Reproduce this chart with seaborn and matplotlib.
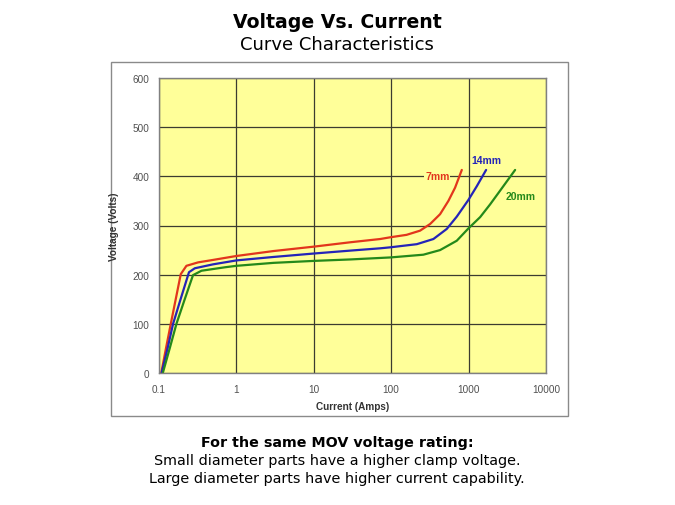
import matplotlib
matplotlib.use("Agg")
import matplotlib.pyplot as plt
from matplotlib.patches import Rectangle
import seaborn as sns
import pandas as pd

# ---- data ----
red_current = [0.107, 0.123, 0.142, 0.191, 0.226, 0.32, 0.5, 1, 3, 10, 30, 72, 97, 158, 236, 318, 428, 548, 669, 817]
red_voltage = [0, 50, 100, 201, 218, 225, 230, 238, 248, 257, 266, 272.5, 276, 281, 289.5, 303, 323, 350, 377, 413]

blue_current = [0.108, 0.129, 0.152, 0.19, 0.244, 0.29, 0.5, 1, 3, 10, 30, 72, 97, 214, 351, 522, 703, 994, 1277, 1683]
blue_voltage = [0, 50, 100, 150, 205, 213, 221, 229, 236, 243, 249, 253.6, 255.6, 262, 272.5, 293, 318, 352, 380, 413]

green_current = [0.112, 0.1375, 0.168, 0.215, 0.275, 0.354, 0.71, 1, 3, 10, 30, 72, 97, 260, 428, 703, 994, 1409, 1897, 2556, 3990]
green_voltage = [0, 50, 100, 150, 199, 208, 215, 218, 224, 228, 231, 234, 235, 240.6, 250, 269, 294, 317, 343, 371, 413]

series_names = ["7mm", "14mm", "20mm"]
x_ticks = [0.1, 1, 10, 100, 1000, 10000]
x_tick_labels = ["0.1", "1", "10", "100", "1000", "10000"]
y_ticks = [0, 100, 200, 300, 400, 500, 600]

title = "Voltage Vs. Current"
subtitle = "Curve Characteristics"
note_bold = "For the same MOV voltage rating:"
note_lines = ["Small diameter parts have a higher clamp voltage.",
              "Large diameter parts have higher current capability."]

# ---- build long-form table ----
frames = []
for name, xs, ys in zip(series_names,
                        [red_current, blue_current, green_current],
                        [red_voltage, blue_voltage, green_voltage]):
    frames.append(pd.DataFrame({"Current": xs, "Voltage": ys, "Size": name}))
df = pd.concat(frames, ignore_index=True)

palette = {"7mm": "#E2361C", "14mm": "#2424B8", "20mm": "#24891A"}

sns.set_style("white")
plt.rcParams["font.family"] = ["DejaVu Sans"]

W, H = 675, 506
fig = plt.figure(figsize=(W / 100, H / 100), dpi=100)
fig.patch.set_facecolor("white")

# outer chart frame
frame = Rectangle((111 / W, 1 - 417 / H), 457 / W, 354 / H,
                  transform=fig.transFigure, facecolor="white",
                  edgecolor="#8a8a8a", linewidth=1.0, zorder=-5)
fig.patches.append(frame)

ax = fig.add_axes([159 / W, 1 - 374 / H, (546 - 159) / W, (374 - 79) / H])
ax.set_zorder(2)
ax.set_facecolor("#FFFF99")

sns.lineplot(data=df, x="Current", y="Voltage", hue="Size", palette=palette,
             sort=False, estimator=None, linewidth=1.6, legend=False, ax=ax)
for ln in ax.get_lines():
    ln.set_solid_joinstyle("round")

ax.set_xscale("log")
ax.set_xlim(0.1, 10000)
ax.set_ylim(0, 600)
ax.set_xticks(x_ticks)
ax.set_xticklabels(x_tick_labels)
ax.set_yticks(y_ticks)
ax.minorticks_off()
ax.grid(True, which="major", color="#3c3c30", linewidth=0.9)
ax.set_axisbelow(True)
for s in ax.spines.values():
    s.set_color("#808080")
    s.set_linewidth(1.0)
ax.tick_params(axis="both", direction="out", length=3, width=0.8, color="#606060",
               labelsize=7.2, labelcolor="#505050")
for lab in ax.get_xticklabels() + ax.get_yticklabels():
    lab.set_family("Liberation Sans")
ax.tick_params(axis="x", pad=5)
ax.tick_params(axis="y", pad=4)

ax.set_xlabel("Current (Amps)", fontsize=7.2, fontweight="bold", color="#333333",
              family="Liberation Sans", labelpad=5)
ax.set_ylabel("Voltage (Volts)", fontsize=7.2, fontweight="bold", color="#333333",
              family="Liberation Sans", labelpad=10)

# curve labels
label_pos = {"7mm": (395, 401), "14mm": (1718, 433), "20mm": (4732, 361)}
for name in series_names:
    x, y = label_pos[name]
    ax.text(x, y, name, color=palette[name], fontsize=7.5, fontweight="bold",
            family="Liberation Sans", ha="center", va="center",
            bbox=dict(facecolor="#FFFF99", edgecolor="none", pad=0.5), zorder=5)

# titles
fig.text(0.4993, 1 - 22 / H, title, ha="center", va="center", fontsize=13.6,
         fontweight="bold", color="black")
fig.text(0.4993, 1 - 45 / H, subtitle, ha="center", va="center", fontsize=13,
         color="black")

# bottom notes
fig.text(0.4993, 1 - 443 / H, note_bold, ha="center", va="center", fontsize=10.3,
         fontweight="bold", color="black")
fig.text(0.4993, 1 - 461 / H, note_lines[0], ha="center", va="center", fontsize=10.4,
         color="black")
fig.text(0.4993, 1 - 479 / H, note_lines[1], ha="center", va="center", fontsize=10.4,
         color="black")

fig.savefig("out.png", dpi=100)
